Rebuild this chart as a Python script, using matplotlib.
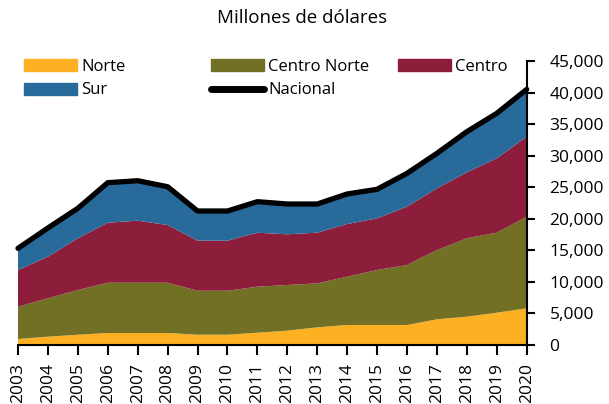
import matplotlib
matplotlib.use("Agg")
import matplotlib.pyplot as plt
from matplotlib.patches import Patch
from matplotlib.lines import Line2D
import numpy as np

plt.rcParams['font.family'] = ['Open Sans', 'DejaVu Sans']

years = list(range(2003, 2021))
norte = [950, 1320, 1630, 1900, 1900, 1900, 1630, 1630, 1950, 2270, 2800, 3170, 3170, 3170, 4070, 4490, 5120, 5810]
centro_norte = [5120, 6080, 7080, 7970, 7970, 7970, 6970, 6970, 7290, 7240, 6970, 7660, 8710, 9510, 10980, 12410, 12680, 14520]
centro = [5810, 6590, 8200, 9510, 9830, 9140, 7930, 7930, 8550, 8030, 8030, 8340, 8190, 9240, 9770, 10460, 11780, 12680]
sur = [3300, 4400, 4600, 6200, 6200, 5950, 4550, 4550, 4800, 4650, 4400, 4600, 4450, 5130, 5400, 6290, 6980, 7350]
nacional = [15320, 18540, 21660, 25720, 26030, 25080, 21230, 21230, 22710, 22340, 22340, 23930, 24670, 27200, 30370, 33800, 36710, 40510]

labels = ['Norte', 'Centro Norte', 'Centro', 'Sur']
colors = ['#FDB022', '#717024', '#8C1D3B', '#286B9A']

W, H = 609, 404
fig = plt.figure(figsize=(W / 100, H / 100), dpi=100)
ax = fig.add_axes([18 / W, (H - 345) / H, (526.7 - 18) / W, (345 - 61) / H])

ax.stackplot(years, norte, centro_norte, centro, sur, colors=colors, linewidth=0)
ax.plot(years, nacional, color='black', lw=3.8, solid_capstyle='round', solid_joinstyle='round', zorder=5, clip_on=False)

ax.set_xlim(2003, 2020)
ax.set_ylim(0, 45000)
ax.set_xticks(years)
ax.set_xticklabels([str(y) for y in years], rotation=90, fontsize=12.5)
ax.set_yticks(np.arange(0, 45001, 5000))
ax.set_yticklabels([f"{v:,}" for v in range(0, 45001, 5000)], fontsize=12.5)
ax.yaxis.tick_right()
ax.tick_params(axis='y', direction='out', length=6, width=1.5, pad=10.5)
ax.tick_params(axis='x', direction='out', length=7, width=1.5, pad=6)
for s in ['top', 'left']:
    ax.spines[s].set_visible(False)
for s in ['bottom', 'right']:
    ax.spines[s].set_linewidth(1.5)
ax.set_facecolor('white')

fig.text(302 / W, 1 - 18 / H, 'Millones de dólares', ha='center', va='center', fontsize=13.5)

handles = [Patch(color=c) for c in colors]
nat_handle = Line2D([0], [0], color='black', lw=5, solid_capstyle='round')
kw = dict(frameon=False, fontsize=12, handlelength=3.15, handleheight=0.7, handletextpad=0.3,
          borderpad=0, borderaxespad=0, labelspacing=0.45, loc='upper left')
l1 = fig.legend([handles[0], handles[3]], ['Norte', 'Sur'], bbox_to_anchor=(24 / W, 1 - 59 / H), **kw)
l2 = fig.legend([handles[1], nat_handle], ['Centro Norte', 'Nacional'], bbox_to_anchor=(211 / W, 1 - 59 / H), **kw)
l3 = fig.legend([handles[2]], ['Centro'], bbox_to_anchor=(398 / W, 1 - 59 / H), **kw)

fig.savefig('out.png', dpi=100, facecolor='white')
